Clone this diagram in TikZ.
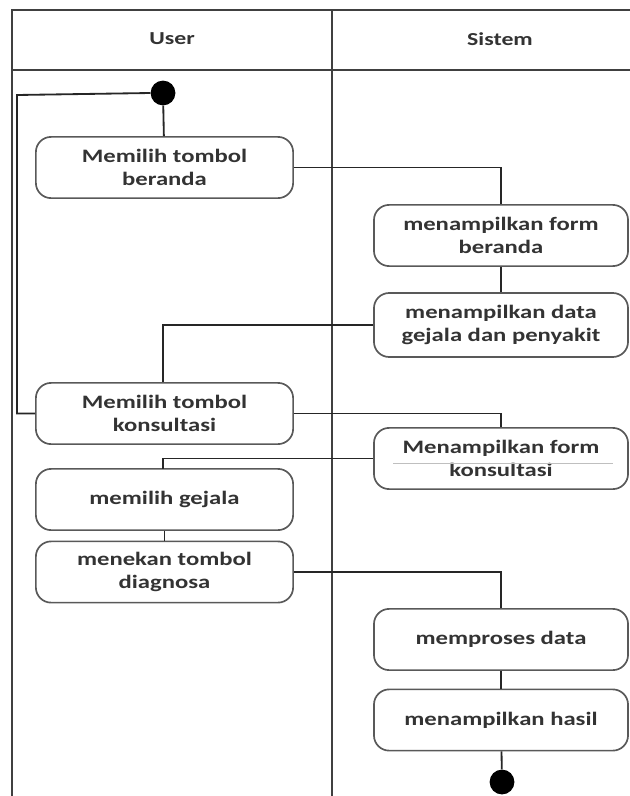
\documentclass[tikz,border=0pt]{standalone}
\usepackage{fontspec}
\setmainfont{Carlito}[FakeStretch=1.3]
\usepackage{tikz}

\begin{document}
\begin{tikzpicture}[x=0.025cm,y=0.025cm]
\tikzstyle{every node}+=[inner sep=0pt]
\tikzstyle{act}=[draw=black!65, line width=1.2pt, rounded corners=0.38cm, minimum height=1.53cm, align=center, text=black!80, font=\fontsize{13.5}{16.5}\selectfont\bfseries]
\tikzstyle{flow}=[black!85, line width=1.3pt]
\useasboundingbox (0,0) rectangle (630,-796);
% swimlanes
\draw [black!75, line width=1.4pt] (12,-796) -- (12,-10) -- (630,-10);
\draw [black!75, line width=1.4pt] (12,-70) -- (630,-70);
\draw [black!75, line width=1.4pt] (332,-10) -- (332,-796);
\node [text=black!80, font=\fontsize{13}{15}\selectfont\bfseries] (user) at (172,-39) {User};
\node [text=black!80, font=\fontsize{13}{15}\selectfont\bfseries] (sistem) at (500,-39) {Sistem};
% start and end
\node [circle, fill=black, minimum size=0.62cm] (start) at (163,-93) {};
\node [circle, fill=black, minimum size=0.62cm] (stop) at (502,-782) {};
\coordinate (loop) at (17,-95);
% activities
\node [act, minimum width=6.43cm] (pilihberanda) at (164.5,-167.5) {Memilih tombol\\beranda};
\node [act, minimum width=6.35cm] (formberanda) at (501,-235.5) {menampilkan form\\beranda};
\node [act, minimum width=6.35cm, minimum height=1.6cm] (datagejala) at (501,-325) {menampilkan data\\gejala dan penyakit};
\node [act, minimum width=6.43cm] (pilihkonsul) at (164.5,-413.5) {Memilih tombol\\konsultasi};
\node [act, minimum width=6.35cm] (formkonsul) at (501,-458.5) {Menampilkan form\\konsultasi};
\node [act, minimum width=6.43cm] (pilihgejala) at (164.5,-499.5) {memilih gejala};
\node [act, minimum width=6.43cm] (diagnosa) at (164.5,-572) {menekan tombol\\diagnosa};
\node [act, minimum width=6.35cm] (proses) at (501,-639.5) {memproses data};
\node [act, minimum width=6.35cm] (hasil) at (501,-720) {menampilkan hasil};
\draw [black!25, line width=0.5pt] (393,-463) -- (613,-463);
% flows
\draw [flow] (start) -- (pilihberanda);
\draw [flow] (start.west) -- (loop) |- (pilihkonsul.west);
\draw [flow] (pilihberanda.east) -| (formberanda.north);
\draw [flow] (formberanda) -- (datagejala);
\draw [flow] (datagejala.west) -| (163,-382);
\draw [flow] (pilihkonsul.east) -| (formkonsul.north);
\draw [flow] (formkonsul.west) -| (163,-469);
\draw [flow] (pilihgejala) -- (diagnosa);
\draw [flow] (diagnosa.east) -| (proses.north);
\draw [flow] (proses) -- (hasil);
\draw [flow] (hasil) -- (stop);
\end{tikzpicture}
\end{document}
